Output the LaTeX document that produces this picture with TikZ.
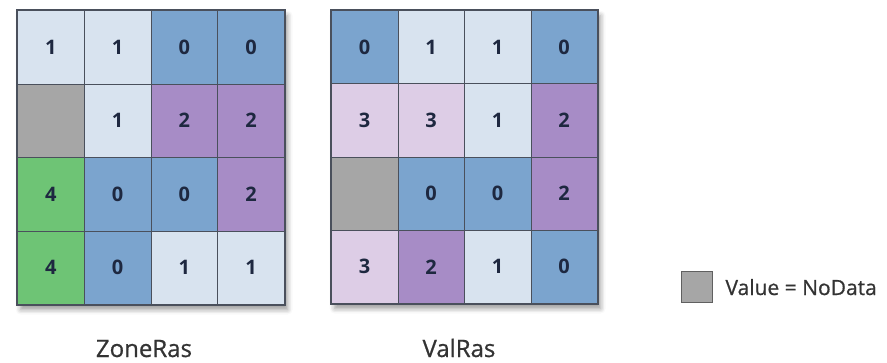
\documentclass[tikz,border=0pt]{standalone}
\usepackage{fontspec}
\setmainfont{Open Sans}
\newfontfamily\labelfont[FakeBold=0.7]{Open Sans}
\usetikzlibrary{shadows.blur}
\definecolor{cell0}{HTML}{7BA4CE}
\definecolor{cell1}{HTML}{D8E3EF}
\definecolor{cell2}{HTML}{A78CC6}
\definecolor{cell3}{HTML}{DDCDE6}
\definecolor{cell4}{HTML}{6EC475}
\definecolor{cellN}{HTML}{A6A6A6}
\definecolor{cellline}{HTML}{4A505C}
\definecolor{numtext}{HTML}{1E2840}
\definecolor{labeltext}{HTML}{333333}
\def\NN{N}
\begin{document}
\begin{tikzpicture}[x=1pt,y=-1pt,
  cell/.style={draw=cellline, line width=0.8pt, inner sep=0pt, anchor=north west,
    font=\fontsize{20}{24}\selectfont\bfseries, text=numtext},
  frame/.style={draw=cellline, line width=1.2pt, fill=white, inner sep=0pt, anchor=north west,
    blur shadow={shadow xshift=3pt, shadow yshift=-5pt, shadow blur radius=5pt, shadow opacity=40}},
  caption/.style={font=\labelfont\fontsize{24}{28}\selectfont, text=labeltext, anchor=base},
  legendtext/.style={font=\labelfont\fontsize{21}{25}\selectfont, text=labeltext, anchor=base west},
  legendbox/.style={draw=gray!75!black, line width=1.2pt, fill=cellN, minimum width=31pt, minimum height=31pt, inner sep=0pt, anchor=north west}]
\useasboundingbox (0,0) rectangle (887,362);
% ZoneRas
\node[frame, minimum width=267pt, minimum height=294pt] (zframe) at (17,10) {};
\foreach \row [count=\r] in {{1,1,0,0},{N,1,2,2},{4,0,0,2},{4,0,1,1}} {
  \foreach \v [count=\c] in \row {
    \node[cell, fill=cell\v, minimum width=66.75pt, minimum height=73.5pt] (z-\r-\c)
      at ({17+(\c-1)*66.75},{10+(\r-1)*73.5}) {\ifx\v\NN\else\v\fi};
  }
}
\draw[cellline, line width=1.2pt] (zframe.north west) rectangle (zframe.south east);
% ValRas
\node[frame, minimum width=266pt, minimum height=293pt] (vframe) at (331,10) {};
\foreach \row [count=\r] in {{0,1,1,0},{3,3,1,2},{N,0,0,2},{3,2,1,0}} {
  \foreach \v [count=\c] in \row {
    \node[cell, fill=cell\v, minimum width=66.5pt, minimum height=73.25pt] (v-\r-\c)
      at ({331+(\c-1)*66.5},{10+(\r-1)*73.25}) {\ifx\v\NN\else\v\fi};
  }
}
\draw[cellline, line width=1.2pt] (vframe.north west) rectangle (vframe.south east);
% captions
\node[caption] (zlabel) at (144,357) {ZoneRas};
\node[caption] (vlabel) at (459,357) {ValRas};
% legend
\node[legendbox] (lbox) at (681,271) {};
\node[legendtext] (ltext) at (722,295) {Value = NoData};
\end{tikzpicture}
\end{document}
